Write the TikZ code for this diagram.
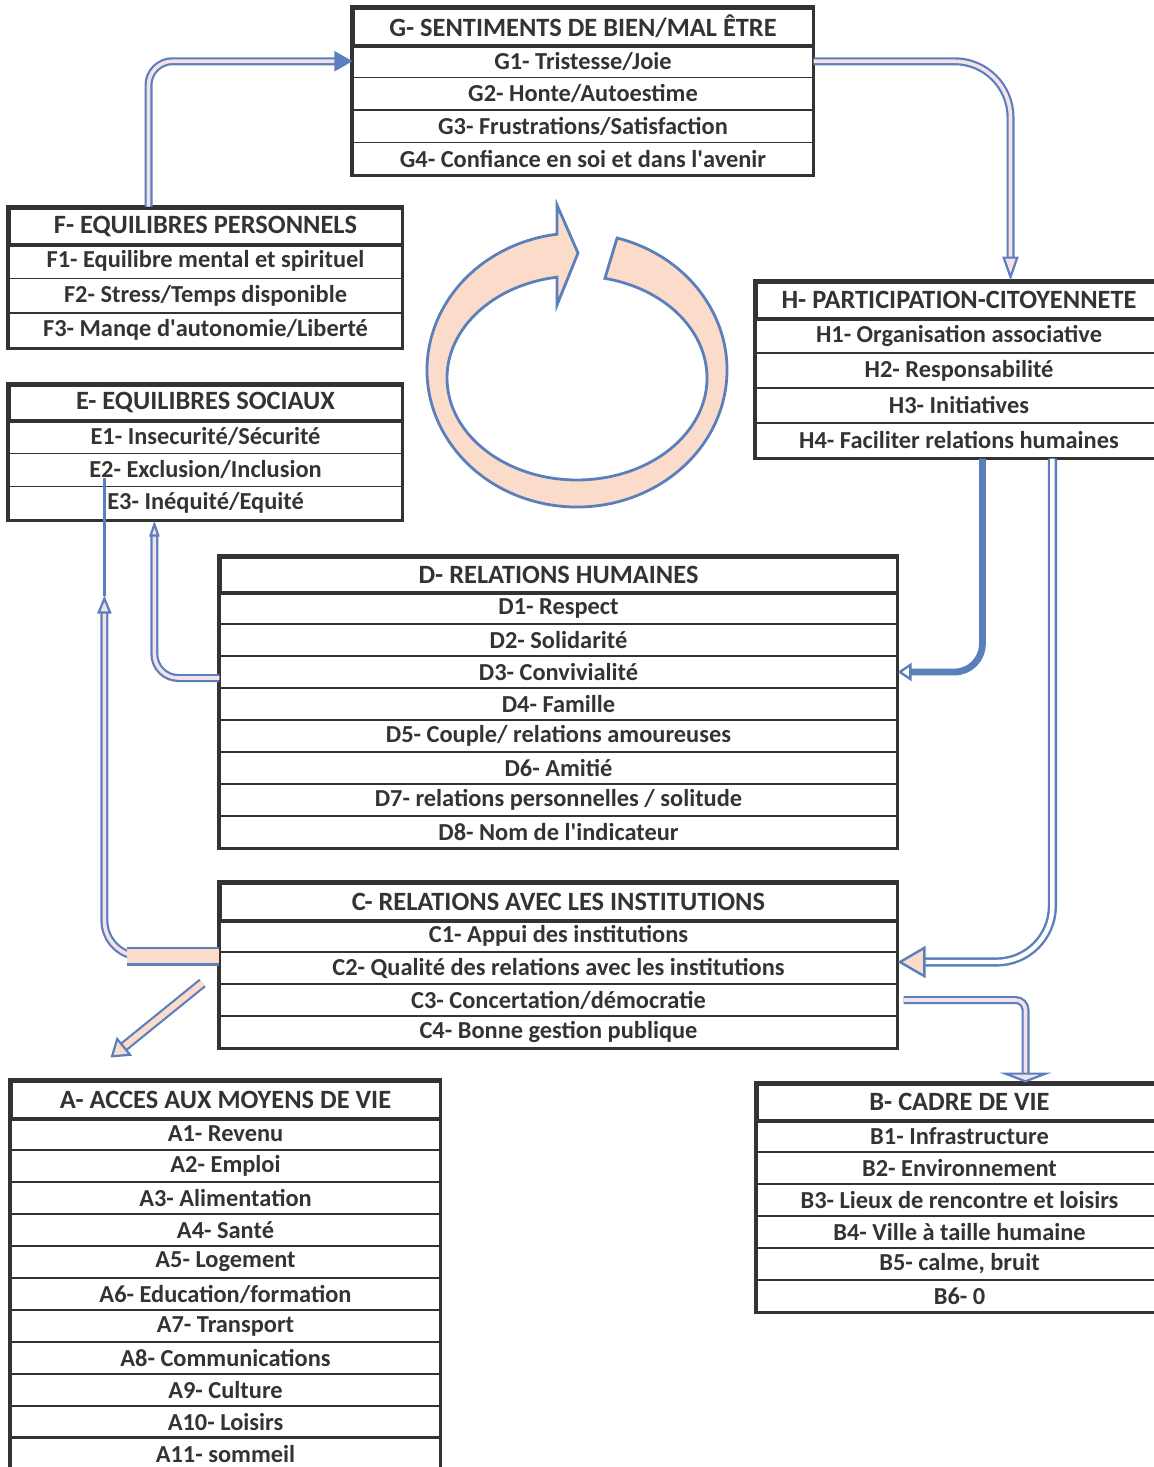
\documentclass[tikz,border=0pt]{standalone}
\usepackage{fontspec}
\setmainfont{Carlito}
\usetikzlibrary{arrows.meta,calc}

\definecolor{bleu}{HTML}{5B7EBC}
\definecolor{peche}{HTML}{FBDCCB}
\definecolor{rose}{HTML}{F5E2E8}
\definecolor{encre}{HTML}{333333}

\tikzset{
  entete/.style={draw=encre, line width=1.5pt, inner sep=0pt, font=\fontsize{13.2}{15}\selectfont\bfseries, text=encre},
  ligne/.style={draw=encre, line width=0.6pt, inner sep=0pt, font=\fontsize{12.2}{14}\selectfont\bfseries, text=encre},
  cadre/.style={draw=encre, line width=1.6pt},
  fleche/.style={draw=bleu, double=rose, line width=1.1pt, double distance=1.8pt},
  grosse/.style={draw=bleu, double=white, line width=1.2pt, double distance=2.2pt},
  anneau/.style={draw=bleu, fill=peche, line width=1.4pt}
}

% #1 nom, #2 gauche, #3 droite, #4 haut, #5 haut. entete, #6 haut. ligne, #7 titre, #8 lignes
\newcommand{\grille}[8]{%
  \node[entete, minimum width={(#3-#2)*0.5pt}, minimum height={#5*0.5pt}] (#1) at ({(#2+#3)/2},{#4+#5/2}) {#7};
  \foreach \t [count=\i] in {#8} {
    \node[ligne, minimum width={(#3-#2)*0.5pt}, minimum height={#6*0.5pt}] (#1\i) at ({(#2+#3)/2},{#4+#5+(\i-0.5)*#6}) {\t};
    \xdef\dern{\i}
  }
  \draw[cadre] (#1.north west) rectangle (#1\dern.south east);
  \draw[cadre] (#1.south west) -- (#1.south east);
}

\begin{document}
\begin{tikzpicture}[x=0.5pt, y=-0.5pt]
\useasboundingbox (0,0) rectangle (1154,1467);

\grille{G}{353}{813}{8}{37}{32.5}{G- SENTIMENTS DE BIEN/MAL ÊTRE}
  {G1- Tristesse/Joie, G2- Honte/Autoestime, G3- Frustrations/Satisfaction, G4- Confiance en soi et dans l\textquotesingle avenir}
\grille{F}{9}{402}{208}{36}{34.5}{F- EQUILIBRES PERSONNELS}
  {F1- Equilibre mental et spirituel, F2- Stress/Temps disponible, F3- Manqe d\textquotesingle autonomie/Liberté}
\grille{E}{9}{402}{385}{35}{33.3}{E- EQUILIBRES SOCIAUX}
  {E1- Insecurité/Sécurité, E2- Exclusion/Inclusion, E3- Inéquité/Equité}
\grille{H}{756}{1162}{282}{36}{35}{H- PARTICIPATION-CITOYENNETE}
  {H1- Organisation associative, H2- Responsabilité, H3- Initiatives, H4- Faciliter relations humaines}
\grille{D}{220}{897}{557}{35}{32}{D- RELATIONS HUMAINES}
  {D1- Respect, D2- Solidarité, D3- Convivialité, D4- Famille, D5- Couple/ relations amoureuses,
   D6- Amitié, D7- relations personnelles / solitude, D8- Nom de l\textquotesingle indicateur}
\grille{C}{220}{897}{883}{37}{32}{C- RELATIONS AVEC LES INSTITUTIONS}
  {C1- Appui des institutions, C2- Qualité des relations avec les institutions,
   C3- Concertation/démocratie, C4- Bonne gestion publique}
\grille{A}{11}{440}{1081}{37}{32}{A- ACCES AUX MOYENS DE VIE}
  {A1- Revenu, A2- Emploi, A3- Alimentation, A4- Santé, A5- Logement, A6- Education/formation,
   A7- Transport, A8- Communications, A9- Culture, A10- Loisirs, A11- sommeil}
\draw[cadre] (A11.north west) -- (A11.north east);
\grille{B}{757}{1162}{1084}{36}{32}{B- CADRE DE VIE}
  {B1- Infrastructure, B2- Environnement, B3- Lieux de rencontre et loisirs,
   B4- Ville à taille humaine, {B5- calme, bruit}, B6- 0}

% cycle central
\begin{scope}[shift={(577,370)}, x=0.5pt, y=0.5pt]
\filldraw[anneau] (74.5:150 and 137) arc[start angle=74.5, end angle=-262.3, x radius=150, y radius=137]
  -- (-20,165) -- (1,117) -- (-20,65) -- (-20.1,92.8)
  arc[start angle=-261.1, end angle=77.6, x radius=130, y radius=102] -- cycle;
\end{scope}

% F -> G
\draw[fleche, rounded corners=12pt, -{Triangle[fill=bleu, length=9pt, width=10pt]}]
  ($(F.north west)+(141,0)$) |- (G1.west);
% G -> H
\draw[fleche, rounded corners=28pt, -{Triangle[fill=rose, length=12pt, width=8pt]}]
  (G1.east) -| ($(H.north west)+(256,0)$);
% H -> D
\draw[bleu, line width=3.4pt, rounded corners=14pt, -{Triangle[fill=white, length=7pt, width=9pt, line width=1.2pt]}]
  ($(H4.south west)+(227,0)$) |- (D3.east);
% H -> C
\draw[grosse, rounded corners=28pt, -{Triangle[fill=peche, length=14pt, width=16pt]}]
  ($(H4.south west)+(297,0)$) |- ($(C2.east)+(0,-6)$);
% C -> B
\draw[fleche, rounded corners=5pt, -{Triangle[fill=rose, length=5pt, width=26pt]}]
  ($(C3.east)+(6,0)$) -| ($(B.north west)+(270,0)$);
% D -> E
\draw[fleche, rounded corners=12pt, -{Triangle[fill=rose, length=8pt, width=5pt]}]
  ($(D3.west)+(0,6)$) -| ($(E3.south west)+(146,0)$);
% C -> E
\coordinate (cg) at ($(C2.north west)+(0,5)$);
\coordinate (pe) at ($(E3.south west)+(96,75)$);
\draw[fleche, rounded corners=18pt, -{Triangle[fill=rose, length=9pt, width=7pt]}]
  ($(cg)+(-60,0)$) -| (pe);
\draw[draw=bleu, double=peche, line width=1.1pt, double distance=7pt] (cg) -- ++(-92,0);
\draw[bleu, line width=1.1pt] (pe) -- ($(E2.south west)+(96,-9)$);
% C -> A
\draw[draw=bleu, double=peche, line width=1.1pt, double distance=3pt, -{Triangle[fill=peche, length=9pt, width=12pt]}]
  ($(C3.west)+(-17,-17)$) -- ($(A.north west)+(101,-22)$);
\end{tikzpicture}
\end{document}
